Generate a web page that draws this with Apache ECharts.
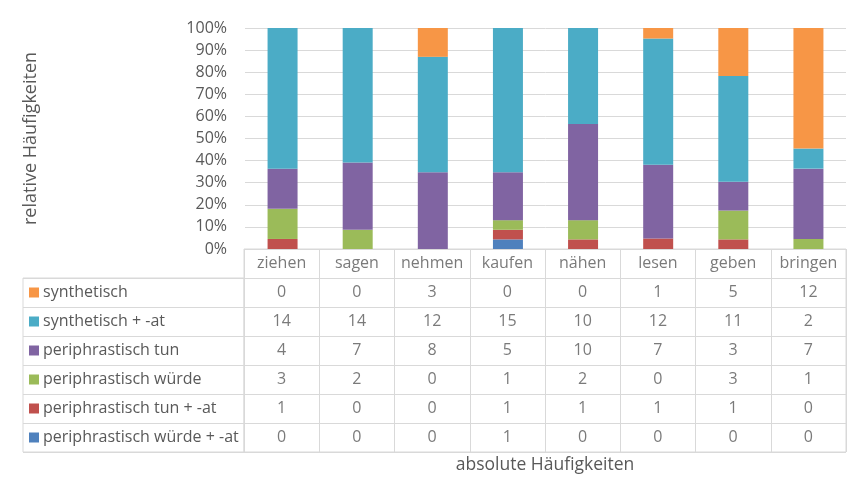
<!DOCTYPE html>
<html><head><meta charset="utf-8">
<script src="https://cdn.jsdelivr.net/npm/echarts@6/dist/echarts.min.js"></script>
<style>html,body{margin:0;padding:0;background:#fff}#c{width:862px;height:478px}</style>
</head><body><div id="c"></div>
<script>
const categories = ['ziehen','sagen','nehmen','kaufen','nähen','lesen','geben','bringen'];
// table rows, top to bottom
const seriesNames = ['synthetisch','synthetisch + -at','periphrastisch tun','periphrastisch würde','periphrastisch tun + -at','periphrastisch würde + -at'];
const synthetisch        = [0,0,3,0,0,1,5,12];
const synthetischAt      = [14,14,12,15,10,12,11,2];
const periTun            = [4,7,8,5,10,7,3,7];
const periWuerde         = [3,2,0,1,2,0,3,1];
const periTunAt          = [1,0,0,1,1,1,1,0];
const periWuerdeAt       = [0,0,0,1,0,0,0,0];
const yTicks = [0,10,20,30,40,50,60,70,80,90,100];

const rows = [synthetisch, synthetischAt, periTun, periWuerde, periTunAt, periWuerdeAt];
const colors = ['#F79646','#4BACC6','#8064A2','#9BBB59','#C0504D','#4F81BD'];
const FONT = 'Open Sans';
const TXT = '#595959';
const LINE = '#d9d9d9';
const FS = 16;

const totals = categories.map((c,i)=>rows.reduce((s,r)=>s+r[i],0));

// bars: stacked bottom-first (reverse of table order)
const barSeries = [];
for (let k = rows.length-1; k >= 0; k--) {
  barSeries.push({
    type:'bar', name: seriesNames[k], stack:'all', xAxisIndex:0, yAxisIndex:0,
    barWidth: 30, itemStyle:{color: colors[k]},
    data: rows[k].map((v,i)=> v/totals[i]*100)
  });
}

const HEADER = '__head';
const tableRows = [HEADER].concat(seriesNames);
const cellData = [];
categories.forEach((c,i)=>{
  cellData.push({value:[c, HEADER], label:{formatter: c}});
  rows.forEach((r,k)=>{
    cellData.push({value:[c, seriesNames[k]], label:{formatter: String(r[i])}});
  });
});

const rich = {t:{color:TXT,fontFamily:FONT,fontSize:FS,padding:[0,0,0,4]}};
colors.forEach((col,k)=>{ rich['c'+k] = {width:10,height:10,backgroundColor:col}; });

const option = {
  animation:false,
  textStyle:{fontFamily:FONT},
  grid:[
    {left:245, top:28, width:601, height:221},
    {left:244, top:249, width:602, height:203, show:true, borderColor:LINE, borderWidth:1},
    {left:23, top:278, width:221, height:174, show:true, borderColor:LINE, borderWidth:1}
  ],
  xAxis:[
    {gridIndex:0, type:'category', data:categories, axisLine:{show:false}, axisTick:{show:false}, axisLabel:{show:false}},
    {gridIndex:1, type:'category', data:categories, position:'bottom',
     axisLine:{show:false}, axisTick:{show:false}, axisLabel:{show:false},
     splitLine:{show:true, lineStyle:{color:LINE}},
     name:'absolute Häufigkeiten', nameLocation:'middle', nameGap:4,
     nameTextStyle:{color:TXT, fontSize:17.5, fontFamily:FONT}},
    {gridIndex:2, type:'value', show:false}
  ],
  yAxis:[
    {gridIndex:0, type:'value', min:0, max:100, interval:10,
     axisLine:{show:false}, axisTick:{show:false},
     axisLabel:{formatter:'{value}%', color:TXT, fontSize:FS, fontFamily:FONT, margin:18},
     splitLine:{lineStyle:{color:LINE}},
     name:'relative Häufigkeiten', nameLocation:'middle', nameGap:205, nameRotate:90,
     nameTextStyle:{color:TXT, fontSize:18, fontFamily:FONT}},
    {gridIndex:1, type:'category', data:tableRows, inverse:true,
     axisLine:{show:false}, axisTick:{show:false}, axisLabel:{show:false},
     splitLine:{show:true, lineStyle:{color:LINE}}},
    {gridIndex:2, type:'category', data:seriesNames, inverse:true,
     axisLine:{show:false}, axisTick:{show:false},
     splitLine:{show:true, lineStyle:{color:LINE}},
     axisLabel:{inside:true, margin:6, align:'left',
       formatter:(v,i)=>'{c'+i+'|}{t|'+v+'}', rich:rich}}
  ],
  series: barSeries.concat([
    {type:'scatter', xAxisIndex:1, yAxisIndex:1, symbolSize:1, itemStyle:{color:'rgba(0,0,0,0)'},
     silent:true,
     label:{show:true, position:'inside', color:TXT, fontSize:FS, fontFamily:FONT},
     data:cellData}
  ])
};
const chart = echarts.init(document.getElementById('c'), null, {renderer:'canvas'});
chart.setOption(option);
</script>
</body></html>
